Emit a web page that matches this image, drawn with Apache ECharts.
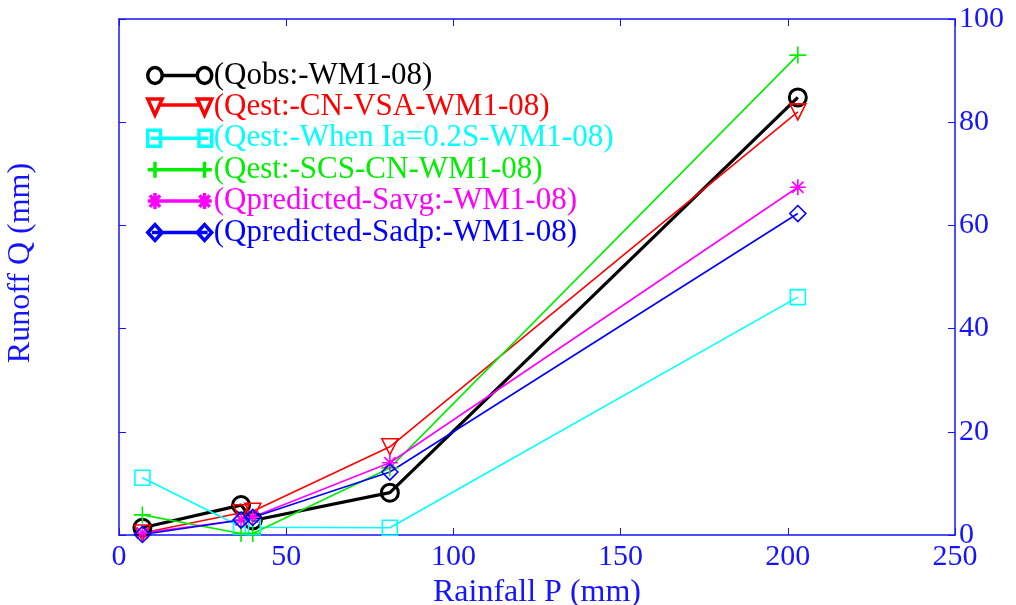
<!DOCTYPE html>
<html>
<head>
<meta charset="utf-8">
<script src="https://cdn.jsdelivr.net/npm/echarts@6/dist/echarts.min.js"></script>
<style>
  html, body { margin: 0; padding: 0; background: #fff; }
  #chart { width: 1016px; height: 605px; }
</style>
</head>
<body>
<div id="chart"></div>
<script>
// rainfall P (mm) for each event
var rainfall = [7, 36.5, 40, 81, 203];
// runoff Q (mm)
var qObs = [1.4, 5.8, 2.8, 8.2, 84.8];
var qCnVsa = [0.4, 4.3, 4.6, 17.1, 82];
var qIa02 = [11.1, 1.6, 1.5, 1.4, 46.1];
var qScsCn = [3.9, 0.3, 0.3, 13, 93];
var qSavg = [0.4, 2.9, 3.5, 14, 67.4];
var qSadp = [0.1, 2.9, 3.4, 12.2, 62.3];

var seriesNames = [
    '(Qobs:-WM1-08)',
    '(Qest:-CN-VSA-WM1-08)',
    '(Qest:-When Ia=0.2S-WM1-08)',
    '(Qest:-SCS-CN-WM1-08)',
    '(Qpredicted-Savg:-WM1-08)',
    '(Qpredicted-Sadp:-WM1-08)'
];
var xTicks = [0, 50, 100, 150, 200, 250];
var yTicks = [0, 20, 40, 60, 80, 100];

var AXIS = '#1414ff';
var FONT = '"Liberation Serif", "DejaVu Serif", serif';

function pairs(ys) {
    var out = [];
    for (var i = 0; i < rainfall.length; i++) {
        out.push([rainfall[i], ys[i]]);
    }
    return out;
}

function mkSeries(name, ys, color, symbol, size, lw, extra) {
    var s = {
        name: name,
        type: 'line',
        data: pairs(ys),
        symbol: symbol,
        symbolSize: size,
        showAllSymbol: true,
        lineStyle: { color: color, width: lw },
        itemStyle: { color: 'rgba(255,255,255,0)', borderColor: color, borderWidth: lw < 2 ? 1.6 : 3 },
        emphasis: { disabled: true },
        animation: false
    };
    if (extra) {
        for (var k in extra) s[k] = extra[k];
    }
    return s;
}

var plusPath = 'path://M0,5L10,5M5,0L5,10';
var starPath = 'path://M0,5L10,5M5,0L5,10M1.5,1.5L8.5,8.5M1.5,8.5L8.5,1.5';

// legend icons: a line with a marker at each end (box 64 x 16)
var legendIcons = [
    'path://M1,8A7,7 0 1 1 15,8A7,7 0 1 1 1,8M15,8L49,8M49,8A7,7 0 1 1 63,8A7,7 0 1 1 49,8',
    'path://M1,2L15,2L8,15ZM11,7L53,7M49,2L63,2L56,15Z',
    'path://M2,2L14,2L14,14L2,14ZM5,8L59,8M50,2L62,2L62,14L50,14Z',
    'path://M1,8L63,8M8,1L8,15M56,1L56,15',
    'path://M1,8L63,8M8,1L8,15M56,1L56,15M3,3L13,13M3,13L13,3M51,3L61,13M51,13L61,3',
    'path://M1,8L8,1L15,8L8,15ZM5,8L59,8M49,8L56,1L63,8L56,15Z'
];

var colors = ['#000000', '#ff0000', '#00ffff', '#00ee00', '#ff00ff', '#0000ff'];

var myChart = echarts.init(document.getElementById('chart'));
var option = {
    backgroundColor: '#ffffff',
    animation: false,
    grid: { left: 119, right: 61, top: 19, bottom: 70, outerBoundsMode: 'none', containLabel: false },
    legend: {
        left: 141,
        top: 55,
        orient: 'vertical',
        itemWidth: 64,
        itemHeight: 16,
        itemGap: 0.4,
        symbolKeepAspect: false,
        selectedMode: false,
        textStyle: { fontFamily: FONT, fontSize: 31, lineHeight: 30, padding: [0, 0, 0, -3] },
        data: seriesNames.map(function (n, i) {
            return {
                name: n,
                icon: legendIcons[i],
                itemStyle: { color: 'rgba(255,255,255,0)', borderColor: colors[i], borderWidth: 3.5 },
                textStyle: { color: colors[i] }
            };
        })
    },
    xAxis: [
        {
            type: 'value',
            min: 0, max: 250, interval: 50,
            name: 'Rainfall P (mm)',
            nameLocation: 'middle',
            nameGap: 34,
            nameTextStyle: { color: AXIS, fontFamily: FONT, fontSize: 32 },
            axisLine: { onZero: false, lineStyle: { color: AXIS, width: 1.5 } },
            axisTick: { inside: true, length: 7, lineStyle: { color: AXIS } },
            axisLabel: { color: AXIS, fontFamily: FONT, fontSize: 30, margin: 7,
                formatter: function (v) { return xTicks.indexOf(v) >= 0 ? String(v) : ''; } },
            splitLine: { show: false }
        },
        {
            type: 'value',
            position: 'top',
            min: 0, max: 250, interval: 50,
            axisLine: { onZero: false, lineStyle: { color: AXIS, width: 1.5 } },
            axisTick: { inside: true, length: 7, lineStyle: { color: AXIS } },
            axisLabel: { show: false },
            splitLine: { show: false }
        }
    ],
    yAxis: [
        {
            type: 'value',
            position: 'left',
            min: 0, max: 100, interval: 20,
            name: 'Runoff Q (mm)',
            nameLocation: 'middle',
            nameGap: 82,
            nameTextStyle: { color: AXIS, fontFamily: FONT, fontSize: 32, padding: [0, 0, 0, 28] },
            axisLine: { onZero: false, lineStyle: { color: AXIS, width: 1.5 } },
            axisTick: { inside: true, length: 7, lineStyle: { color: AXIS } },
            axisLabel: { show: false },
            splitLine: { show: false }
        },
        {
            type: 'value',
            position: 'right',
            min: 0, max: 100, interval: 20,
            axisLine: { show: true, onZero: false, lineStyle: { color: AXIS, width: 1.5 } },
            axisTick: { show: true, inside: true, length: 7, lineStyle: { color: AXIS } },
            axisLabel: { color: AXIS, fontFamily: FONT, fontSize: 30, margin: 4,
                formatter: function (v) { return yTicks.indexOf(v) >= 0 ? String(v) : ''; } },
            splitLine: { show: false }
        }
    ],
    series: [
        mkSeries(seriesNames[0], qObs, colors[0], 'circle', 17, 3.2),
        mkSeries(seriesNames[1], qCnVsa, colors[1], 'triangle', 16, 1.6, { symbolRotate: 180 }),
        mkSeries(seriesNames[2], qIa02, colors[2], 'rect', 15, 1.6),
        mkSeries(seriesNames[3], qScsCn, colors[3], plusPath, 17, 1.6),
        mkSeries(seriesNames[4], qSavg, colors[4], starPath, 16, 1.6),
        mkSeries(seriesNames[5], qSadp, colors[5], 'diamond', 16, 1.6)
    ]
};
myChart.setOption(option);
</script>
</body>
</html>
